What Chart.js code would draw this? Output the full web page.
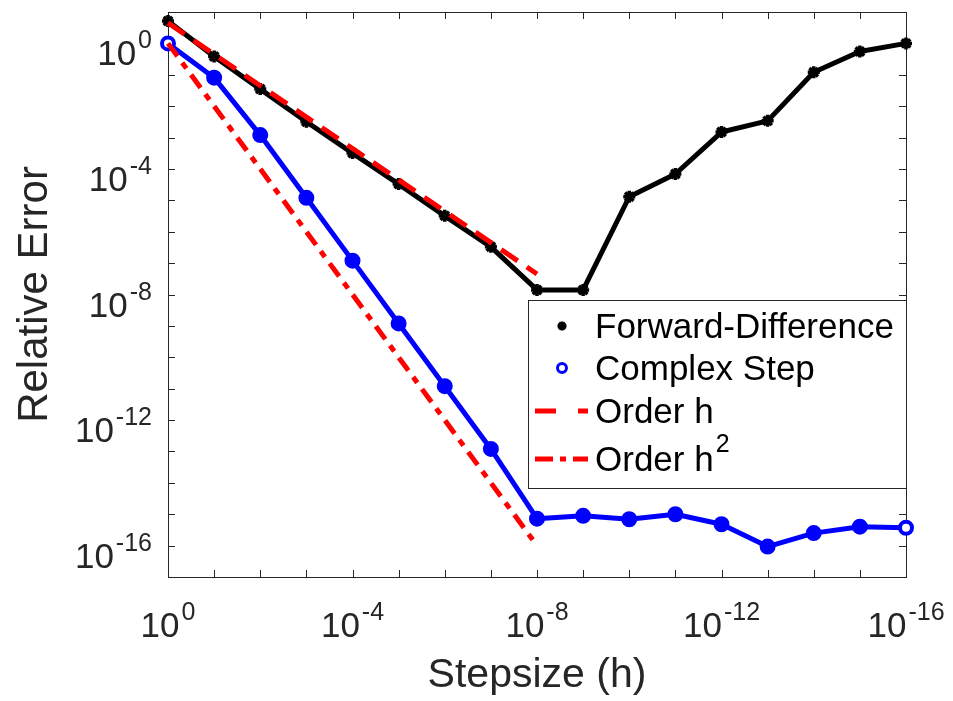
<!DOCTYPE html>
<html>
<head>
<meta charset="utf-8">
<script src="https://cdn.jsdelivr.net/npm/chart.js@4.4.1/dist/chart.umd.min.js"></script>
<style>
  html, body { margin: 0; padding: 0; background: #fff; }
  canvas { display: block; }
</style>
</head>
<body>
<canvas id="chart-error" width="953" height="701"></canvas>
<script>
// step sizes h
const stepSizes = [1e0, 1e-1, 1e-2, 1e-3, 1e-4, 1e-5, 1e-6, 1e-7, 1e-8,
  1e-9, 1e-10, 1e-11, 1e-12, 1e-13, 1e-14, 1e-15, 1e-16];
// relative errors
const forwardDiff = [5.2, 0.38, 0.035, 3.2e-3, 3.2e-4, 3.3e-5, 3.2e-6, 3.3e-7, 1.4e-8,
  1.4e-8, 1.3e-5, 6.9e-5, 1.5e-3, 3.4e-3, 0.12, 0.55, 1.0];
const complexStep = [1.0, 0.081, 1.2e-3, 1.2e-5, 1.2e-7, 1.2e-9, 1.2e-11, 1.2e-13, 7.2e-16,
  8.9e-16, 6.9e-16, 1.0e-15, 4.8e-16, 9.3e-17, 2.5e-16, 4.0e-16, 3.7e-16];
// reference slopes
const orderHx = [1, 1e-8];
const orderHy = [4.5, 4.5e-8];
const orderH2x = [1, 1e-8];
const orderH2y = [1.0, 1e-16];
// labelled ticks (10^exp)
const xTickValues = [1, 1e-4, 1e-8, 1e-12, 1e-16];
const xTickExps = ['0', '-4', '-8', '-12', '-16'];
const yTickValues = [1, 1e-4, 1e-8, 1e-12, 1e-16];
const yTickExps = ['0', '-4', '-8', '-12', '-16'];
const legendLabels = ['Forward-Difference', 'Complex Step', 'Order h', 'Order h'];
const legendSups = ['', '', '', '2'];

document.addEventListener('DOMContentLoaded', function () {
  const FONT = "'Liberation Sans', Arial, Helvetica, sans-serif";
  const AXIS_COLOR = '#262626';
  const BLACK = '#000000';
  const BLUE = '#0000FF';
  const RED = '#FF0000';
  const DASH = [20, 11];
  const DASH_DOT = [16, 8, 7, 8];

  const chartElement = document.querySelector('#chart-error');
  if (!chartElement) return;

  const toPoints = (xs, ys) => xs.map((x, i) => ({ x: x, y: ys[i] }));

  // one tick mark per decade
  const decadeTicks = (lo, hi) => {
    const out = [];
    for (let e = hi; e >= lo; e--) out.push({ value: Math.pow(10, e) });
    return out;
  };

  const drawPow = (ctx, exp, x, y, align) => {
    ctx.font = '35px ' + FONT;
    const w1 = ctx.measureText('10').width;
    ctx.font = '25px ' + FONT;
    const w2 = ctx.measureText(exp).width;
    const total = w1 + 2 + w2;
    const start = align === 'right' ? x - total : x - total / 2;
    ctx.textAlign = 'left';
    ctx.textBaseline = 'alphabetic';
    ctx.font = '35px ' + FONT;
    ctx.fillText('10', start, y);
    ctx.font = '25px ' + FONT;
    ctx.fillText(exp, start + w1 + 2, y - 17);
  };

  // matlab style box, inner ticks and 10^n labels
  const axesPlugin = {
    id: 'matlabAxes',
    beforeDatasetsDraw(chart) {
      const { ctx, chartArea: a, scales } = chart;
      const x = scales.x;
      const y = scales.y;
      ctx.save();
      ctx.strokeStyle = AXIS_COLOR;
      ctx.lineWidth = 1;
      ctx.strokeRect(a.left + 0.5, a.top + 0.5, a.right - a.left, a.bottom - a.top);
      ctx.beginPath();
      x.ticks.forEach((t) => {
        const px = Math.round(x.getPixelForValue(t.value)) + 0.5;
        ctx.moveTo(px, a.bottom); ctx.lineTo(px, a.bottom - 7);
        ctx.moveTo(px, a.top); ctx.lineTo(px, a.top + 7);
      });
      y.ticks.forEach((t) => {
        const py = Math.round(y.getPixelForValue(t.value)) + 0.5;
        ctx.moveTo(a.left, py); ctx.lineTo(a.left + 7, py);
        ctx.moveTo(a.right, py); ctx.lineTo(a.right - 7, py);
      });
      ctx.stroke();

      ctx.fillStyle = AXIS_COLOR;
      xTickValues.forEach((v, i) => {
        drawPow(ctx, xTickExps[i], x.getPixelForValue(v), a.bottom + 60, 'center');
      });
      yTickValues.forEach((v, i) => {
        drawPow(ctx, yTickExps[i], a.left - 16, y.getPixelForValue(v) + 22, 'right');
      });
      ctx.restore();
    },
    afterDatasetsDraw(chart) {
      const { ctx } = chart;
      const box = { left: 528, top: 300, right: 906, bottom: 488 };
      const rows = [326, 368, 411, 459];
      const symX = 562;
      const textX = 595;
      ctx.save();
      ctx.fillStyle = '#fff';
      ctx.fillRect(box.left, box.top, box.right - box.left, box.bottom - box.top);
      ctx.strokeStyle = AXIS_COLOR;
      ctx.lineWidth = 1;
      ctx.strokeRect(box.left + 0.5, box.top + 0.5, box.right - box.left, box.bottom - box.top);

      // symbols
      ctx.strokeStyle = BLACK;
      ctx.fillStyle = BLACK;
      ctx.lineWidth = 3;
      Chart.helpers.drawPoint(ctx, { pointStyle: 'star', radius: 4.5, borderWidth: 3 }, symX, rows[0]);

      ctx.fillStyle = '#fff';
      ctx.strokeStyle = BLUE;
      ctx.lineWidth = 3;
      ctx.beginPath();
      ctx.arc(symX, rows[1], 4.5, 0, Math.PI * 2);
      ctx.fill();
      ctx.stroke();

      ctx.strokeStyle = RED;
      ctx.lineWidth = 5;
      ctx.setLineDash([21, 22]);
      ctx.beginPath();
      ctx.moveTo(535, rows[2]); ctx.lineTo(588, rows[2]);
      ctx.stroke();
      ctx.setLineDash([18, 7, 6, 7]);
      ctx.beginPath();
      ctx.moveTo(535, rows[3]); ctx.lineTo(588, rows[3]);
      ctx.stroke();
      ctx.setLineDash([]);

      // texts
      ctx.fillStyle = BLACK;
      ctx.textAlign = 'left';
      ctx.textBaseline = 'middle';
      legendLabels.forEach((label, i) => {
        ctx.font = '35px ' + FONT;
        ctx.fillText(label, textX, rows[i] + 2);
        if (legendSups[i]) {
          const w = ctx.measureText(label).width;
          ctx.font = '25px ' + FONT;
          ctx.fillText(legendSups[i], textX + w + 2, rows[i] - 14);
        }
      });
      ctx.restore();
    },
  };

  const pointFill = complexStep.map((v, i) => (i === 0 || i === complexStep.length - 1 ? '#fff' : BLUE));

  new Chart(chartElement, {
    type: 'line',
    data: {
      datasets: [
        {
          label: 'Forward-Difference',
          data: toPoints(stepSizes, forwardDiff),
          borderColor: BLACK,
          backgroundColor: BLACK,
          borderWidth: 5,
          pointStyle: 'star',
          pointRadius: 6,
          pointBorderWidth: 3.5,
          pointBorderColor: BLACK,
          order: 4,
        },
        {
          label: 'Complex Step',
          data: toPoints(stepSizes, complexStep),
          borderColor: BLUE,
          backgroundColor: BLUE,
          borderWidth: 5,
          pointStyle: 'circle',
          pointRadius: 6,
          pointBorderWidth: 4,
          pointBorderColor: BLUE,
          pointBackgroundColor: pointFill,
          order: 3,
        },
        {
          label: 'Order h',
          data: toPoints(orderHx, orderHy),
          borderColor: RED,
          borderWidth: 5,
          borderDash: DASH,
          pointRadius: 0,
          order: 2,
        },
        {
          label: 'Order h2',
          data: toPoints(orderH2x, orderH2y),
          borderColor: RED,
          borderWidth: 5,
          borderDash: DASH_DOT,
          pointRadius: 0,
          order: 1,
        },
      ],
    },
    options: {
      responsive: false,
      animation: false,
      layout: { padding: { left: 0, right: 47, top: 12, bottom: 0 } },
      datasets: { line: { clip: false, tension: 0, borderJoinStyle: 'round' } },
      scales: {
        x: {
          type: 'logarithmic',
          reverse: true,
          min: 1e-16,
          max: 1,
          grid: { display: false },
          border: { display: false },
          ticks: { display: false },
          afterBuildTicks: (scale) => { scale.ticks = decadeTicks(-16, 0); },
          afterFit: (scale) => { scale.height = 124; },
          title: {
            display: true,
            text: 'Stepsize (h)',
            color: AXIS_COLOR,
            font: { family: FONT, size: 41 },
            padding: { top: 0, bottom: 1 },
          },
        },
        y: {
          type: 'logarithmic',
          min: 1e-17,
          max: 10,
          grid: { display: false },
          border: { display: false },
          ticks: { display: false },
          afterBuildTicks: (scale) => { scale.ticks = decadeTicks(-17, 1); },
          afterFit: (scale) => { scale.width = 168; },
          title: {
            display: true,
            text: 'Relative Error',
            color: AXIS_COLOR,
            font: { family: FONT, size: 42 },
            padding: { top: 10, bottom: 0 },
          },
        },
      },
      plugins: {
        legend: { display: false },
        tooltip: { enabled: false },
      },
    },
    plugins: [axesPlugin],
  });
});
</script>
</body>
</html>
